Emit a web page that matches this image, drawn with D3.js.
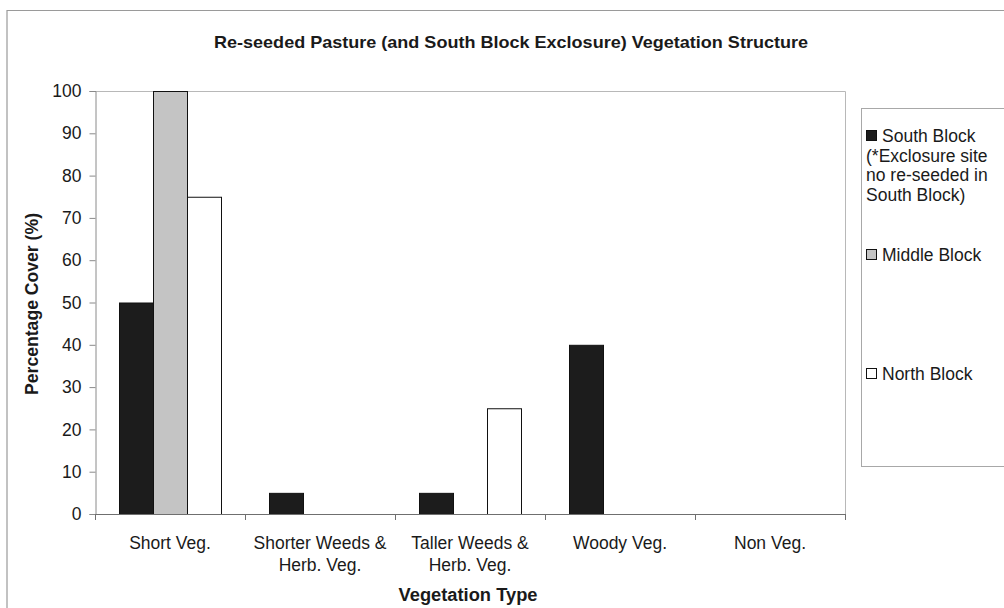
<!DOCTYPE html>
<html>
<head>
<meta charset="utf-8">
<script src="https://cdnjs.cloudflare.com/ajax/libs/d3/7.8.5/d3.min.js"></script>
<style>
  html, body { margin: 0; padding: 0; background: #fff; }
  svg { display: block; font-family: "Liberation Sans", Arial, Helvetica, sans-serif; }
</style>
</head>
<body>
<svg id="chart" width="1004" height="608"></svg>
<script>
// Vegetation structure data (percentage cover)
const categories = [
  ["Short Veg."],
  ["Shorter Weeds &", "Herb. Veg."],
  ["Taller Weeds &", "Herb. Veg."],
  ["Woody Veg."],
  ["Non Veg."]
];
const seriesNames = ["South Block", "Middle Block", "North Block"];
const southBlock  = [50, 5, 5, 40, 0];
const middleBlock = [100, 0, 0, 0, 0];
const northBlock  = [75, 0, 25, 0, 0];
const yTicks = [0, 10, 20, 30, 40, 50, 60, 70, 80, 90, 100];
const legendLabels = [
  ["South Block", "(*Exclosure site", "no re-seeded in", "South Block)"],
  ["Middle Block"],
  ["North Block"]
];

const seriesValues = [southBlock, middleBlock, northBlock];
const fills = ["#1c1c1c", "#c4c4c4", "#ffffff"];

const svg = d3.select("#chart");
const plot = { left: 95, right: 845, top: 91, bottom: 514 };

// outer chart frame
svg.append("path")
  .attr("d", "M7,608 V10.5 H1004")
  .attr("fill", "none").attr("stroke", "#9a9a9a").attr("stroke-width", 1.2);

const x0 = d3.scaleBand()
  .domain(d3.range(categories.length))
  .range([plot.left, plot.right])
  .paddingInner(0.32).paddingOuter(0.16);
const x1 = d3.scaleBand()
  .domain(d3.range(seriesNames.length))
  .range([0, x0.bandwidth()]);
const y = d3.scaleLinear().domain([0, 100]).range([plot.bottom, plot.top]);

// plot area border (top and right)
svg.append("path")
  .attr("d", `M${plot.left},${plot.top + 0.5} H${plot.right + 0.5} V${plot.bottom}`)
  .attr("fill", "none").attr("stroke", "#b8b8b8").attr("stroke-width", 1);

// bars
const groups = svg.append("g").selectAll("g")
  .data(categories.map((c, i) => i))
  .join("g")
  .attr("transform", i => `translate(${x0(i)},0)`);

groups.selectAll("rect")
  .data(i => seriesValues.map((vals, s) => ({ s, v: vals[i] })).filter(d => d.v > 0))
  .join("rect")
  .attr("x", d => x1(d.s) + 0.5)
  .attr("y", d => y(d.v) + 0.5)
  .attr("width", x1.bandwidth())
  .attr("height", d => y(0) - y(d.v))
  .attr("fill", d => fills[d.s])
  .attr("stroke", "#111")
  .attr("stroke-width", 1);

// y axis
const yAxis = svg.append("g")
  .attr("transform", `translate(${plot.left + 0.5},0)`)
  .call(d3.axisLeft(y).tickValues(yTicks).tickSize(6).tickPadding(8));
yAxis.select(".domain").attr("stroke", "#8a8a8a");
yAxis.selectAll(".tick line").attr("stroke", "#8a8a8a");
yAxis.selectAll(".tick text")
  .attr("font-size", 17.5).attr("fill", "#1a1a1a")
  .attr("font-family", "Liberation Sans, Arial, sans-serif");

// x axis: ticks on category boundaries
const boundaries = d3.range(categories.length + 1).map(i => plot.left + i * (plot.right - plot.left) / categories.length);
const xb = svg.append("g");
xb.append("line")
  .attr("x1", plot.left).attr("x2", plot.right + 0.5)
  .attr("y1", plot.bottom + 0.5).attr("y2", plot.bottom + 0.5)
  .attr("stroke", "#6f6f6f");
xb.selectAll("line.tk").data(boundaries).join("line")
  .attr("class", "tk")
  .attr("x1", d => Math.round(d) + 0.5).attr("x2", d => Math.round(d) + 0.5)
  .attr("y1", plot.bottom).attr("y2", plot.bottom + 6)
  .attr("stroke", "#6f6f6f");

// category labels
const labels = svg.append("g")
  .attr("font-size", 17.5).attr("fill", "#1a1a1a").attr("text-anchor", "middle");
categories.forEach((lines, i) => {
  const cx = x0(i) + x0.bandwidth() / 2;
  const t = labels.append("text").attr("x", cx).attr("y", 549);
  lines.forEach((ln, k) => {
    t.append("tspan").attr("x", cx).attr("dy", k === 0 ? 0 : 22).text(ln);
  });
});

// titles
svg.append("text")
  .attr("x", 511).attr("y", 48)
  .attr("text-anchor", "middle")
  .attr("font-size", 17).attr("font-weight", "bold").attr("fill", "#1a1a1a")
  .attr("textLength", 594).attr("lengthAdjust", "spacingAndGlyphs")
  .text("Re-seeded Pasture (and South Block Exclosure) Vegetation Structure");

svg.append("text")
  .attr("x", 468).attr("y", 601)
  .attr("text-anchor", "middle")
  .attr("font-size", 17.5).attr("font-weight", "bold").attr("fill", "#1a1a1a")
  .attr("textLength", 139).attr("lengthAdjust", "spacingAndGlyphs")
  .text("Vegetation Type");

svg.append("text")
  .attr("transform", "translate(38,304) rotate(-90)")
  .attr("text-anchor", "middle")
  .attr("font-size", 17.5).attr("font-weight", "bold").attr("fill", "#1a1a1a")
  .attr("textLength", 182).attr("lengthAdjust", "spacingAndGlyphs")
  .text("Percentage Cover (%)");

// legend
const legend = svg.append("g");
legend.append("rect")
  .attr("x", 861.5).attr("y", 108.5).attr("width", 160).attr("height", 358)
  .attr("fill", "#fff").attr("stroke", "#a8a8a8");
const legendY = [142, 261, 380];
seriesNames.forEach((name, s) => {
  legend.append("rect")
    .attr("x", 866.5).attr("y", legendY[s] - 11.5).attr("width", 10).attr("height", 10)
    .attr("fill", fills[s]).attr("stroke", "#111");
  const t = legend.append("text")
    .attr("x", 882).attr("y", legendY[s])
    .attr("font-size", 17.5).attr("fill", "#1a1a1a");
  legendLabels[s].forEach((ln, k) => {
    t.append("tspan").attr("x", k === 0 ? 882 : 866).attr("dy", k === 0 ? 0 : 19.5).text(ln);
  });
});
</script>
</body>
</html>
